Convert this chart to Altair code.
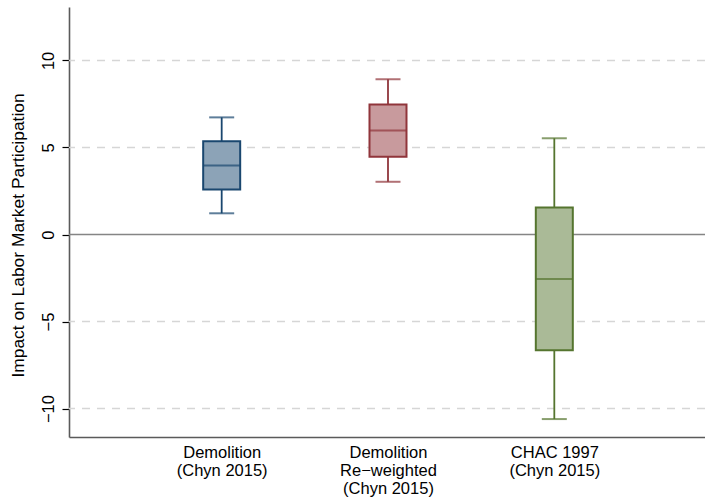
import altair as alt
import pandas as pd

# ---- data ----
groups = ["Demolition|(Chyn 2015)", "Demolition|Re\u2212weighted|(Chyn 2015)", "CHAC 1997|(Chyn 2015)"]
positions = [1, 2, 3]
whisker_low = [1.22, 3.03, -10.6]
q1 = [2.58, 4.47, -6.65]
median = [3.96, 5.97, -2.55]
q3 = [5.36, 7.47, 1.56]
whisker_high = [6.73, 8.92, 5.53]
line_colors = ["#1a476f", "#90353b", "#55752f"]
fill_colors = ["#8ca3b7", "#c89a9d", "#aaba97"]
grid_values = [-10, -5, 5, 10]
zero_value = [0]
y_ticks = [-10, -5, 0, 5, 10]

df = pd.DataFrame({
    "group": groups, "pos": positions, "lo": whisker_low, "q1": q1,
    "med": median, "q3": q3, "hi": whisker_high,
})

FONT = "Liberation Sans"
xscale = alt.Scale(domain=[0.112, 3.876], nice=False, zero=False)
yscale = alt.Scale(domain=[-11.63, 13.07], nice=False, zero=False)
color = alt.Color("group:N", scale=alt.Scale(domain=groups, range=line_colors), legend=None)
fill = alt.Fill("group:N", scale=alt.Scale(domain=groups, range=fill_colors), legend=None)

label_expr = "split({" + ",".join(f'"{p}": "{g}"' for p, g in zip(positions, groups)) + "}[datum.value + ''], '|')"

x_axis = alt.Axis(values=positions, labelExpr=label_expr, title=None, grid=False, ticks=False,
                  labelFont=FONT, labelFontSize=16.5, labelColor="#000000", labelLineHeight=18,
                  labelPadding=7, labelBaseline="top", domainColor="#5a5a5a", domainWidth=1.6)
y_axis = alt.Axis(values=y_ticks, title="Impact on Labor Market Participation", grid=False,
                  labelAngle=270, labelAlign="center", labelBaseline="bottom", labelPadding=6,
                  labelFont=FONT, labelFontSize=16.5, labelColor="#000000",
                  titleFont=FONT, titleFontSize=17.4, titleFontWeight="normal", titleColor="#000000",
                  titlePadding=13, titleY=228, tickSize=7, tickColor="#000000", tickWidth=1.2,
                  domainColor="#5a5a5a", domainWidth=1.6)

base = alt.Chart(df)

grid = alt.Chart(pd.DataFrame({"v": grid_values})).mark_rule(
    color="#d6d6d6", strokeWidth=1.5, strokeDash=[8, 7]
).encode(y=alt.Y("v:Q", scale=yscale, axis=y_axis))

zero = alt.Chart(pd.DataFrame({"v": zero_value})).mark_rule(
    color="#858585", strokeWidth=1.6
).encode(y=alt.Y("v:Q", scale=yscale))

whisk_lo = base.mark_rule(strokeWidth=1.8).encode(
    x=alt.X("pos:Q", scale=xscale, axis=x_axis), y=alt.Y("lo:Q", scale=yscale), y2="q1:Q", color=color)
whisk_hi = base.mark_rule(strokeWidth=1.8).encode(
    x=alt.X("pos:Q", scale=xscale), y=alt.Y("q3:Q", scale=yscale), y2="hi:Q", color=color)
cap_lo = base.mark_tick(orient="horizontal", size=25, thickness=2).encode(
    x=alt.X("pos:Q", scale=xscale), y=alt.Y("lo:Q", scale=yscale), color=color)
cap_hi = base.mark_tick(orient="horizontal", size=25, thickness=2).encode(
    x=alt.X("pos:Q", scale=xscale), y=alt.Y("hi:Q", scale=yscale), color=color)
box = base.mark_bar(size=37, strokeWidth=2).encode(
    x=alt.X("pos:Q", scale=xscale), y=alt.Y("q1:Q", scale=yscale), y2="q3:Q",
    fill=fill, stroke=alt.Stroke("group:N", scale=alt.Scale(domain=groups, range=line_colors), legend=None))
med = base.mark_tick(orient="horizontal", size=37, thickness=2).encode(
    x=alt.X("pos:Q", scale=xscale), y=alt.Y("med:Q", scale=yscale), color=color)

chart = alt.layer(grid, zero, whisk_lo, whisk_hi, cap_lo, cap_hi, box, med).properties(
    width=636, height=430,
    autosize=alt.AutoSizeParams(type="none"),
    padding={"left": 69, "top": 7, "right": 0, "bottom": 62},
    background="white",
).configure_view(stroke=None)

chart.save("out.html", embed_options={"renderer": "svg", "actions": False})
